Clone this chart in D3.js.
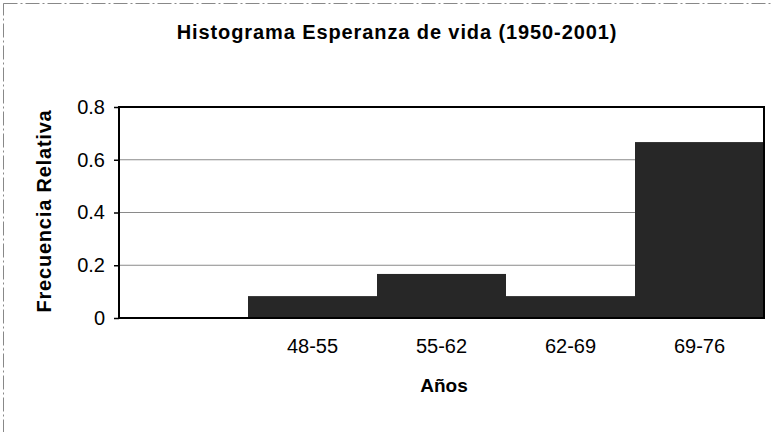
<!DOCTYPE html>
<html>
<head>
<meta charset="utf-8">
<script src="https://cdn.jsdelivr.net/npm/d3@7"></script>
<style>
  body { margin: 0; background: #fff; }
  svg { display: block; font-family: "Liberation Sans", Arial, sans-serif; }
</style>
</head>
<body>
<svg width="771" height="432"></svg>
<script>
// bins of life expectancy (first slot is an empty class)
const categories = ["", "48-55", "55-62", "62-69", "69-76"];
const relFreq = [0, 0.083, 0.167, 0.083, 0.667];
const yTicks = [0, 0.2, 0.4, 0.6, 0.8];

const svg = d3.select("svg");

// outer chart frame (only top and left visible)
svg.append("rect")
  .attr("x", 3.5).attr("y", 3.5)
  .attr("width", 800).attr("height", 460)
  .attr("fill", "none")
  .attr("stroke", "#888")
  .attr("stroke-dasharray", "14,3,2,3");

const plotL = 119, plotR = 764, plotT = 107, plotB = 318;

var x = d3.scaleBand().domain(categories).range([plotL, plotR]).padding(0);
var y = d3.scaleLinear().domain([0, 0.8]).range([plotB, plotT]);

// gridlines
svg.append("g")
  .selectAll("line")
  .data(yTicks.filter(d => d > 0 && d < 0.8))
  .enter()
  .append("line")
  .attr("x1", plotL).attr("x2", plotR)
  .attr("y1", d => y(d)).attr("y2", d => y(d))
  .attr("stroke", "#8a8a8a")
  .attr("stroke-width", 1);

// bars
svg.append("g")
  .selectAll("rect")
  .data(categories.map((c, i) => ({ c: c, v: relFreq[i] })))
  .enter()
  .append("rect")
  .attr("x", d => x(d.c))
  .attr("y", d => y(d.v))
  .attr("width", x.bandwidth())
  .attr("height", d => y(0) - y(d.v))
  .attr("fill", "#272727");

// plot frame
svg.append("rect")
  .attr("x", plotL).attr("y", plotT)
  .attr("width", plotR - plotL).attr("height", plotB - plotT)
  .attr("fill", "none")
  .attr("stroke", "#000")
  .attr("stroke-width", 2);

// y axis
var yAxis = svg.append("g")
  .attr("transform", "translate(" + plotL + ",0)")
  .call(d3.axisLeft(y).tickValues(yTicks).tickSize(5).tickPadding(9)
    .tickFormat(d => d === 0 ? "0" : d3.format(".1f")(d)));
yAxis.select(".domain").remove();
yAxis.selectAll("line").attr("stroke", "#000").attr("stroke-width", 1.5);
yAxis.selectAll("text")
  .attr("fill", "#000")
  .style("font-size", "20px")
  .style("font-family", "'Liberation Sans', Arial, sans-serif");

// x axis
var xAxis = svg.append("g")
  .attr("transform", "translate(0," + plotB + ")")
  .call(d3.axisBottom(x).tickSize(0).tickPadding(21));
xAxis.select(".domain").remove();
xAxis.selectAll("text")
  .attr("fill", "#000")
  .style("font-size", "20px")
  .style("font-family", "'Liberation Sans', Arial, sans-serif");

// title
svg.append("text")
  .attr("x", 397)
  .attr("y", 39)
  .style("text-anchor", "middle")
  .style("font-weight", "bold")
  .style("font-size", "20px")
  .style("letter-spacing", "0.9px")
  .text("Histograma Esperanza de vida (1950-2001)");

// axis titles
svg.append("text")
  .attr("x", 444)
  .attr("y", 392)
  .style("text-anchor", "middle")
  .style("font-weight", "bold")
  .style("font-size", "19px")
  .text("Años");

svg.append("text")
  .attr("transform", "translate(51,211) rotate(-90)")
  .style("text-anchor", "middle")
  .style("font-weight", "bold")
  .style("font-size", "20px")
  .style("letter-spacing", "0.8px")
  .text("Frecuencia Relativa");
</script>
</body>
</html>
